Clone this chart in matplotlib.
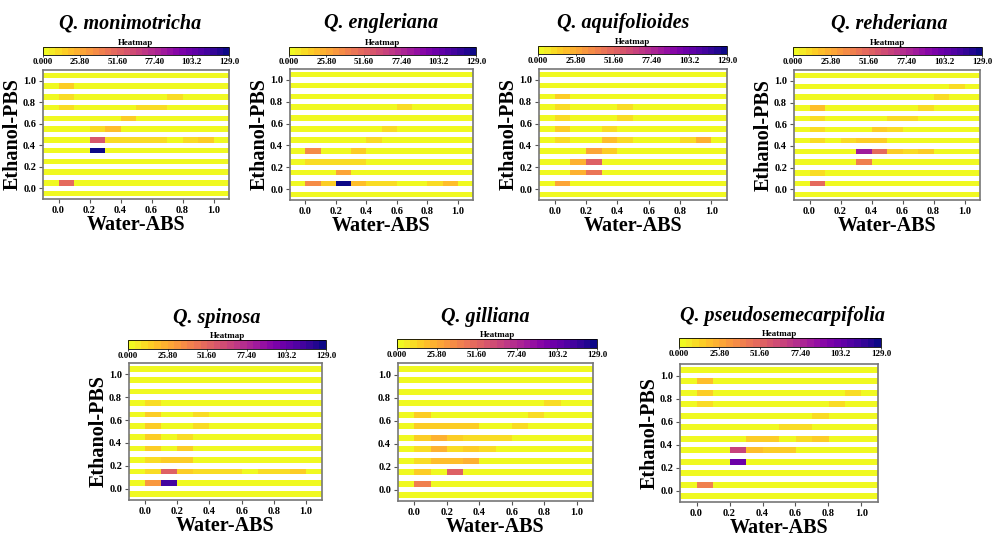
import numpy as np
import matplotlib.pyplot as plt

plt.rcParams['font.family'] = ['Liberation Serif', 'DejaVu Serif']

# species shown in each panel
species = ["Q. monimotricha", "Q. engleriana", "Q. aquifolioides", "Q. rehderiana",
           "Q. spinosa", "Q. gilliana", "Q. pseudosemecarpifolia"]

# Water-ABS bins: -0.1..1.1 in steps of 0.1 (12 columns)
# Ethanol-PBS bands: rows from 1.05 (top) down to -0.05 (bottom)
monimotricha = [
    [0, 0, 0, 0, 0, 0, 0, 0, 0, 0, 0, 0],
    [0, 16, 0, 0, 0, 0, 0, 0, 0, 0, 0, 0],
    [0, 10, 0, 0, 0, 0, 0, 0, 9, 0, 0, 0],
    [0, 10, 0, 0, 0, 0, 9, 9, 0, 0, 0, 0],
    [0, 0, 0, 0, 0, 16, 0, 0, 0, 0, 0, 0],
    [0, 0, 0, 10, 21, 0, 0, 0, 0, 0, 0, 0],
    [0, 0, 0, 58, 10, 10, 10, 10, 0, 10, 15, 0],
    [0, 0, 0, 125, 0, 0, 0, 0, 0, 0, 0, 0],
    [0, 0, 0, 0, 0, 0, 0, 0, 0, 0, 0, 0],
    [0, 0, 0, 0, 0, 0, 0, 0, 0, 0, 0, 0],
    [0, 49, 0, 0, 0, 0, 0, 0, 0, 0, 0, 0],
    [0, 0, 0, 0, 0, 0, 0, 0, 0, 0, 0, 0],
]
engleriana = [
    [0, 0, 0, 0, 0, 0, 0, 0, 0, 0, 0, 0],
    [0, 0, 0, 0, 0, 0, 0, 0, 0, 0, 0, 0],
    [0, 0, 0, 0, 0, 0, 0, 0, 0, 0, 0, 0],
    [0, 0, 0, 0, 0, 0, 0, 10, 0, 0, 0, 0],
    [0, 0, 0, 0, 0, 0, 0, 0, 0, 0, 0, 0],
    [0, 0, 0, 0, 0, 0, 11, 0, 0, 0, 0, 0],
    [0, 0, 0, 0, 0, 11, 0, 0, 0, 0, 0, 0],
    [0, 38, 0, 0, 16, 0, 0, 0, 0, 0, 0, 0],
    [0, 11, 9, 9, 9, 0, 0, 0, 0, 0, 0, 0],
    [0, 0, 0, 30, 0, 0, 0, 0, 0, 0, 0, 0],
    [0, 35, 16, 129, 18, 11, 10, 0, 0, 10, 18, 0],
    [0, 0, 0, 0, 0, 0, 0, 0, 0, 0, 0, 0],
]
aquifolioides = [
    [0, 0, 0, 0, 0, 0, 0, 0, 0, 0, 0, 0],
    [0, 0, 0, 0, 0, 0, 0, 0, 0, 0, 0, 0],
    [0, 16, 0, 0, 0, 0, 0, 0, 0, 0, 0, 0],
    [0, 10, 0, 0, 0, 11, 0, 0, 0, 0, 0, 0],
    [0, 9, 0, 0, 0, 11, 0, 0, 0, 0, 0, 0],
    [0, 16, 0, 0, 11, 0, 0, 0, 0, 0, 0, 0],
    [0, 10, 0, 0, 20, 11, 0, 0, 0, 10, 22, 0],
    [0, 0, 0, 27, 16, 0, 0, 0, 0, 0, 0, 0],
    [0, 0, 24, 55, 0, 0, 0, 0, 0, 0, 0, 0],
    [0, 0, 24, 45, 0, 0, 0, 0, 0, 0, 0, 0],
    [0, 30, 0, 0, 0, 0, 0, 0, 0, 0, 0, 0],
    [0, 0, 0, 0, 0, 0, 0, 0, 0, 0, 0, 0],
]
rehderiana = [
    [0, 0, 0, 0, 0, 0, 0, 0, 0, 0, 0, 0],
    [0, 0, 0, 0, 0, 0, 0, 0, 0, 0, 9, 0],
    [0, 0, 0, 0, 0, 0, 0, 0, 0, 10, 0, 0],
    [0, 18, 0, 0, 0, 0, 0, 0, 11, 0, 0, 0],
    [0, 10, 0, 0, 0, 0, 10, 10, 0, 0, 0, 0],
    [0, 11, 0, 0, 0, 16, 11, 0, 0, 0, 0, 0],
    [0, 10, 0, 9, 17, 16, 0, 0, 0, 0, 0, 0],
    [0, 0, 0, 0, 85, 50, 16, 11, 16, 0, 0, 0],
    [0, 0, 0, 0, 42, 0, 0, 0, 0, 0, 0, 0],
    [0, 9, 0, 0, 0, 0, 0, 0, 0, 0, 0, 0],
    [0, 50, 0, 0, 0, 0, 0, 0, 0, 0, 0, 0],
    [0, 0, 0, 0, 0, 0, 0, 0, 0, 0, 0, 0],
]
spinosa = [
    [0, 0, 0, 0, 0, 0, 0, 0, 0, 0, 0, 0],
    [0, 0, 0, 0, 0, 0, 0, 0, 0, 0, 0, 0],
    [0, 0, 0, 0, 0, 0, 0, 0, 0, 0, 0, 0],
    [0, 10, 0, 0, 0, 0, 0, 0, 0, 0, 0, 0],
    [0, 15, 0, 0, 10, 0, 0, 0, 0, 0, 0, 0],
    [0, 15, 0, 0, 10, 0, 0, 0, 0, 0, 0, 0],
    [0, 15, 0, 12, 0, 0, 0, 0, 0, 0, 0, 0],
    [0, 15, 0, 16, 0, 0, 0, 0, 0, 0, 0, 0],
    [0, 10, 15, 15, 0, 0, 0, 0, 0, 0, 0, 0],
    [0, 10, 55, 16, 10, 10, 10, 0, 9, 9, 17, 0],
    [0, 32, 112, 0, 0, 0, 0, 0, 0, 0, 0, 0],
    [0, 0, 0, 0, 0, 0, 0, 0, 0, 0, 0, 0],
]
gilliana = [
    [0, 0, 0, 0, 0, 0, 0, 0, 0, 0, 0, 0],
    [0, 0, 0, 0, 0, 0, 0, 0, 0, 0, 0, 0],
    [0, 0, 0, 0, 0, 0, 0, 0, 0, 0, 0, 0],
    [0, 0, 0, 0, 0, 0, 0, 0, 0, 10, 0, 0],
    [0, 16, 0, 0, 0, 0, 0, 0, 10, 0, 0, 0],
    [0, 14, 14, 14, 14, 0, 0, 11, 0, 0, 0, 0],
    [0, 17, 24, 17, 12, 12, 12, 0, 0, 0, 0, 0],
    [0, 11, 25, 11, 16, 12, 0, 0, 0, 0, 0, 0],
    [0, 11, 20, 20, 25, 0, 0, 0, 0, 0, 0, 0],
    [0, 16, 0, 52, 0, 0, 0, 0, 0, 0, 0, 0],
    [0, 40, 0, 0, 0, 0, 0, 0, 0, 0, 0, 0],
    [0, 0, 0, 0, 0, 0, 0, 0, 0, 0, 0, 0],
]
pseudosemecarpifolia = [
    [0, 0, 0, 0, 0, 0, 0, 0, 0, 0, 0, 0],
    [0, 21, 0, 0, 0, 0, 0, 0, 0, 0, 0, 0],
    [0, 15, 0, 0, 0, 0, 0, 0, 0, 0, 12, 0],
    [0, 11, 0, 0, 0, 0, 0, 0, 0, 11, 0, 0],
    [0, 0, 0, 0, 0, 0, 0, 0, 12, 0, 0, 0],
    [0, 0, 0, 0, 0, 0, 12, 12, 0, 0, 0, 0],
    [0, 0, 0, 0, 13, 13, 0, 11, 16, 0, 0, 0],
    [0, 0, 0, 68, 21, 15, 15, 0, 0, 0, 0, 0],
    [0, 0, 0, 100, 0, 0, 0, 0, 0, 0, 0, 0],
    [0, 0, 0, 0, 0, 0, 0, 0, 0, 0, 0, 0],
    [0, 42, 0, 0, 0, 0, 0, 0, 0, 0, 0, 0],
    [0, 0, 0, 0, 0, 0, 0, 0, 0, 0, 0, 0],
]
grids = [monimotricha, engleriana, aquifolioides, rehderiana,
         spinosa, gilliana, pseudosemecarpifolia]

vmax = 129.0
cbar_ticks = np.linspace(0, vmax, 6)
cbar_labels = ["0.000", "25.80", "51.60", "77.40", "103.2", "129.0"]
axis_ticks = [0.0, 0.2, 0.4, 0.6, 0.8, 1.0]

# layout in pixels: (left, top, right, bottom)
W, H = 992, 535
ax_px = [(43, 70, 229, 199), (290, 69, 473, 200), (539, 69, 727, 200), (794, 70, 980, 200),
         (129, 363, 322, 500), (398, 363, 593, 501), (680, 364, 878, 502)]
cb_px = [(43, 47, 229, 55), (289, 47, 476, 55), (538, 46, 727, 54), (793, 47, 982, 55),
         (128, 340, 326, 349), (397, 339, 597, 348), (679, 338, 881, 347)]
title_px = [(130, 23), (381, 23), (623, 23), (889, 23), (217, 318), (485, 317), (783, 316)]


def rect(l, t, r, b):
    return [l / W, 1 - b / H, (r - l) / W, (b - t) / H]


cmap = plt.get_cmap("plasma_r").resampled(30)
x_edges = np.linspace(-0.1, 1.1, 13)
y_edges = np.linspace(-0.075, 1.075, 24)   # band / gap / band ...

fig = plt.figure(figsize=(W / 100, H / 100), dpi=100)

for i, (name, grid) in enumerate(zip(species, grids)):
    ax = fig.add_axes(rect(*ax_px[i]))
    vals = np.array(grid, dtype=float)[::-1]
    z = np.full((23, 12), np.nan)
    z[::2] = vals
    mesh = ax.pcolormesh(x_edges, y_edges, np.ma.masked_invalid(z),
                         cmap=cmap, vmin=0, vmax=vmax, edgecolors="none")
    ax.set_xlim(-0.1, 1.1)
    ax.set_ylim(-0.1, 1.1)
    ax.set_xticks(axis_ticks)
    ax.set_yticks(axis_ticks)
    ax.set_xticklabels([f"{t:.1f}" for t in axis_ticks], fontweight="bold")
    ax.set_yticklabels([f"{t:.1f}" for t in axis_ticks], fontweight="bold")
    ax.tick_params(labelsize=7.5, length=3, width=0.8, color="#555555", pad=2)
    for s in ax.spines.values():
        s.set_color("#777777")
        s.set_linewidth(1.2)
    ax.set_xlabel("Water-ABS", fontsize=14.5, fontweight="bold", labelpad=0)
    if name != "Q. gilliana":
        ax.set_ylabel("Ethanol-PBS", fontsize=14.5, fontweight="bold", labelpad=0.5)

    cax = fig.add_axes(rect(*cb_px[i]))
    cb = fig.colorbar(mesh, cax=cax, orientation="horizontal")
    cb.set_ticks(cbar_ticks)
    cb.set_ticklabels(cbar_labels, fontweight="bold")
    cb.ax.tick_params(labelsize=6.5, length=1.5, width=0.5, pad=1)
    cb.outline.set_linewidth(0.6)
    cax.set_title("Heatmap", fontsize=6.5, fontweight="bold", pad=1.5)

    tx, ty = title_px[i]
    fig.text(tx / W, 1 - ty / H, name, fontsize=14.5, style="italic",
             fontweight="bold", ha="center", va="center")

fig.savefig("out.png", dpi=100)
